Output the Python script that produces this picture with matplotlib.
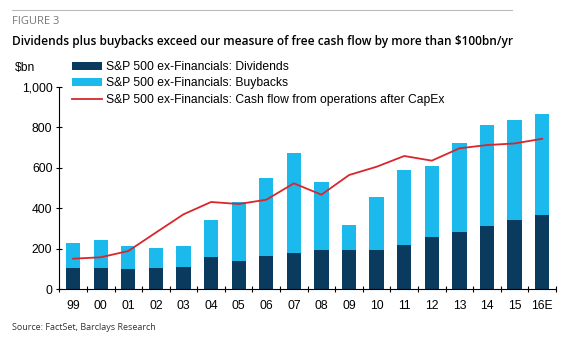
import matplotlib
matplotlib.use("Agg")
import matplotlib.pyplot as plt
import numpy as np

# data ($bn)
years = ["99", "00", "01", "02", "03", "04", "05", "06", "07", "08",
         "09", "10", "11", "12", "13", "14", "15", "16E"]
dividends = [104, 104, 99, 104, 110, 159, 140, 163, 178, 194,
             194, 194, 219, 260, 283, 312, 342, 368]
totals = [230, 242, 214, 205, 214, 344, 429, 549, 673, 530,
          316, 454, 590, 608, 722, 809, 834, 864]
buybacks = [t - d for t, d in zip(totals, dividends)]
cash_flow = [151, 158, 189, 280, 370, 431, 421, 442, 523, 467,
             564, 605, 658, 635, 696, 712, 720, 743]

navy = "#0a3a5e"
sky = "#1bb9ec"
red = "#d9262c"
fs = 8.7

plt.rcParams["font.family"] = ["Liberation Sans", "DejaVu Sans"]

fig = plt.figure(figsize=(5.71, 3.56), dpi=100)
ax = fig.add_axes([0.1039, 0.1874, 0.8698, 0.569])

x = np.arange(len(years))
b1 = ax.bar(x, dividends, width=0.52, color=navy, label="S&P 500 ex-Financials: Dividends")
b2 = ax.bar(x, buybacks, width=0.52, bottom=dividends, color=sky,
            label="S&P 500 ex-Financials: Buybacks")
l1, = ax.plot(x, cash_flow, color=red, lw=1.3,
              label="S&P 500 ex-Financials: Cash flow from operations after CapEx")

ax.set_xlim(-0.5, len(years) - 0.5)
ax.set_ylim(0, 1000)
ax.set_yticks([0, 200, 400, 600, 800, 1000])
ax.set_yticklabels(["0", "200", "400", "600", "800", "1,000"], fontsize=fs)
ax.set_xticks(x)
ax.set_xticklabels(years, fontsize=fs)
ax.set_xticks(np.arange(-0.5, len(years), 1), minor=True)
ax.tick_params(axis="x", which="major", length=0, pad=8)
ax.tick_params(axis="x", which="minor", length=4, direction="inout", width=0.8)
ax.tick_params(axis="y", length=4, direction="inout", width=0.8, pad=3)
for s in ["top", "right"]:
    ax.spines[s].set_visible(False)
ax.spines["left"].set_linewidth(0.8)
ax.spines["bottom"].set_linewidth(0.8)

fig.text(15 / 571, 1 - 68 / 356, r"\$bn", fontsize=fs, va="center")
fig.legend(handles=[b1, b2, l1], loc="upper left",
           bbox_to_anchor=(72 / 571, 1 - 61 / 356),
           frameon=False, fontsize=fs, handlelength=2.5, handleheight=0.66,
           handletextpad=0.3, labelspacing=0.36, borderpad=0, borderaxespad=0)

# header and footer
fig.add_artist(plt.Line2D([12 / 571, 512 / 571], [1 - 10 / 356, 1 - 10 / 356],
                          color="#bbbbbb", lw=0.8))
fig.text(12 / 571, 1 - 22 / 356, "FIGURE 3", fontsize=8, color="#777777",
         family=["Open Sans"], va="center")
fig.text(12 / 571, 1 - 41 / 356,
         r"Dividends plus buybacks exceed our measure of free cash flow by more than \$100bn/yr",
         fontsize=8.6, weight="semibold", family=["Open Sans"], va="center")
fig.text(12 / 571, 1 - 328 / 356, "Source: FactSet, Barclays Research", fontsize=6.5,
         family=["Open Sans"], color="#333333", va="center")

fig.savefig("out.png", dpi=100)
